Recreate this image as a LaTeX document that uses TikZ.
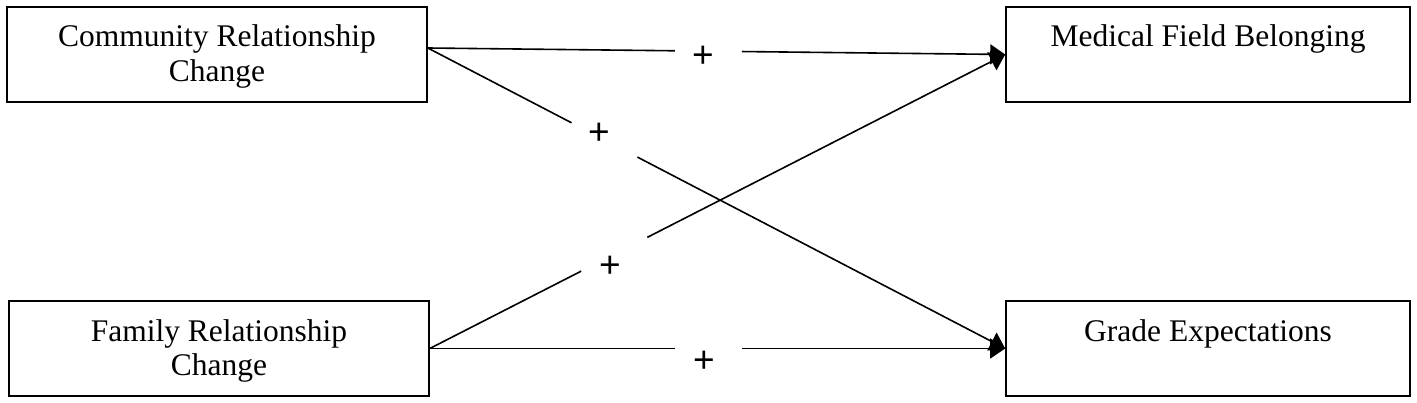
\documentclass[tikz,border=0pt]{standalone}
\usepackage{fontspec}
\setmainfont{Liberation Serif}
\newfontfamily\plusfont{Liberation Sans}
\usetikzlibrary{arrows.meta}
\begin{document}
\begin{tikzpicture}[x=1pt,y=-1pt,
  box/.style={draw, line width=1.6pt, inner sep=0pt, minimum width=420pt, minimum height=95pt,
    align=center, text height=75pt, text depth=20pt,
    font=\fontsize{31.5}{35}\selectfont},
  link/.style={line width=1.6pt},
  tip/.style={link, -{Triangle[length=15pt,width=20pt]}},
  sign/.style={font=\plusfont\fontsize{37}{38}\selectfont, inner sep=0pt}]
\useasboundingbox (0,0) rectangle (1417,403);
\node[box] (crc) at (217,54.5) {Community Relationship\\Change};
\node[box] (frc) at (219,348.5) {Family Relationship\\Change};
\node[box, minimum width=404pt] (mfb) at (1208,54.5) {Medical Field Belonging\\~};
\node[box, minimum width=404pt] (ge) at (1208,348.5) {Grade Expectations\\~};
\coordinate (crcout) at ([yshift=6.5pt]crc.east);
\coordinate (frcout) at (frc.east);
% gap coordinates
\path (crcout) -- (mfb.west) coordinate[pos=0.428] (a1) coordinate[pos=0.544] (a2);
\path (crcout) -- (ge.west) coordinate[pos=0.249] (b1) coordinate[pos=0.363] (b2);
\path (frcout) -- (mfb.west) coordinate[pos=0.263] (c1) coordinate[pos=0.378] (c2);
\path (frcout) -- (ge.west) coordinate[pos=0.426] (d1) coordinate[pos=0.542] (d2);
\draw[link] (crcout) -- (a1);
\draw[tip] (a2) -- (mfb.west);
\draw[link] (crcout) -- (b1);
\draw[tip] (b2) -- (ge.west);
\draw[link] (frcout) -- (c1);
\draw[tip] (c2) -- (mfb.west);
\draw[link] (frcout) -- (d1);
\draw[tip] (d2) -- (ge.west);
\node[sign] (sa) at (703,57) {+};
\node[sign] (sb) at (599,134) {+};
\node[sign] (sc) at (610,267) {+};
\node[sign] (sd) at (704,362) {+};
\end{tikzpicture}
\end{document}
